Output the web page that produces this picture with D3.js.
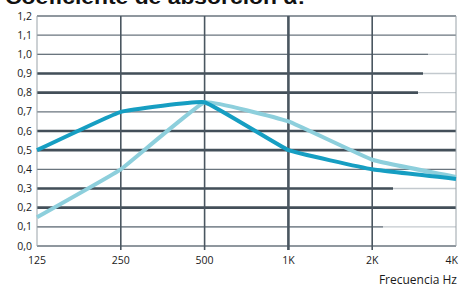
<!DOCTYPE html>
<html>
<head>
<meta charset="utf-8">
<script src="https://d3js.org/d3.v7.min.js"></script>
<style>
  body { margin: 0; background: white; }
  svg { display: block; }
</style>
</head>
<body>
<script>
  let freqs = ["125", "250", "500", "1K", "2K", "4K"]
  let darkValues = [0.5, 0.7, 0.75, 0.5, 0.4, 0.35]
  let lightValues = [0.15, 0.4, 0.75, 0.65, 0.45, 0.36]
  let yTicks = [0, 0.1, 0.2, 0.3, 0.4, 0.5, 0.6, 0.7, 0.8, 0.9, 1.0, 1.1, 1.2]
  let thickTicks = [0.2, 0.3, 0.5, 0.6, 0.8, 0.9]

  let width = 464, height = 287
  let plotLeft = 37, plotRight = 456, plotTop = 16, plotBottom = 246

  // where the dark part of a grid line stops (the rest is faded)
  let fadeAt = { "0.1": 383, "0.3": 393, "0.8": 418, "0.9": 423, "1": 428 }

  let svg = d3.select("body").append("svg")
    .attr("width", width).attr("height", height)

  let x = d3.scalePoint().domain(freqs).range([plotLeft, plotRight])
  let y = d3.scaleLinear().domain([0, 1.2]).range([plotBottom, plotTop])

  // horizontal grid
  let grid = svg.append("g")
  yTicks.forEach(t => {
    let thick = thickTicks.includes(t)
    let sw = thick ? 2.6 : 1.3
    let end = fadeAt[String(t)]
    grid.append("line")
      .attr("x1", plotLeft).attr("x2", plotRight)
      .attr("y1", y(t)).attr("y2", y(t))
      .attr("stroke", end ? "#c3c9ce" : (thick ? "#434f59" : "#6a757e"))
      .attr("stroke-width", end ? 1.3 : sw)
    if (end) {
      grid.append("line")
        .attr("x1", plotLeft).attr("x2", end)
        .attr("y1", y(t)).attr("y2", y(t))
        .attr("stroke", thick ? "#434f59" : "#6a757e")
        .attr("stroke-width", sw)
    }
  })

  // vertical grid
  freqs.forEach((f, i) => {
    let edge = i === 0 || i === freqs.length - 1
    grid.append("line")
      .attr("x1", x(f)).attr("x2", x(f))
      .attr("y1", plotTop).attr("y2", plotBottom + (edge ? 0 : 4))
      .attr("stroke", edge ? "#9aa3a9" : "#4a5660")
      .attr("stroke-width", f === "1K" ? 2.6 : edge ? 1 : 1.6)
  })

  let line = d3.line()
    .x((d, i) => x(freqs[i]))
    .y(d => y(d))
    .curve(d3.curveCardinal.tension(0.75))

  svg.append("path")
    .attr("d", line(lightValues))
    .attr("fill", "none")
    .attr("stroke", "#8dcfdc")
    .attr("stroke-width", 4)
    .attr("stroke-linejoin", "round")

  svg.append("path")
    .attr("d", line(darkValues))
    .attr("fill", "none")
    .attr("stroke", "#169ec2")
    .attr("stroke-width", 4)
    .attr("stroke-linejoin", "round")

  // y labels
  svg.append("g").selectAll("text")
    .data(yTicks).enter().append("text")
    .attr("x", 32)
    .attr("y", d => y(d) + 3.5)
    .attr("text-anchor", "end")
    .attr("font-family", "Open Sans")
    .attr("font-size", 10.5)
    .attr("fill", "#1a1a1a")
    .text(d => d.toFixed(1).replace(".", ","))

  // x labels
  svg.append("g").selectAll("text")
    .data(freqs).enter().append("text")
    .attr("x", (d, i) => i === freqs.length - 1 ? x(d) + 2 : x(d))
    .attr("y", 264)
    .attr("text-anchor", (d, i) => i === freqs.length - 1 ? "end" : "middle")
    .attr("font-family", "Open Sans")
    .attr("font-size", 10.5)
    .attr("fill", "#1a1a1a")
    .text(d => d)

  svg.append("text")
    .attr("x", 457).attr("y", 284)
    .attr("text-anchor", "end")
    .attr("font-family", "Open Sans")
    .attr("font-size", 12)
    .attr("fill", "#1a1a1a")
    .text("Frecuencia Hz")

  svg.append("text")
    .attr("x", 5).attr("y", 4)
    .attr("font-family", "Liberation Sans, Arial")
    .attr("font-weight", "bold")
    .attr("font-size", 21)
    .attr("textLength", 300)
    .attr("lengthAdjust", "spacingAndGlyphs")
    .attr("fill", "#111")
    .text("Coeficiente de absorción α:")
</script>
</body>
</html>
